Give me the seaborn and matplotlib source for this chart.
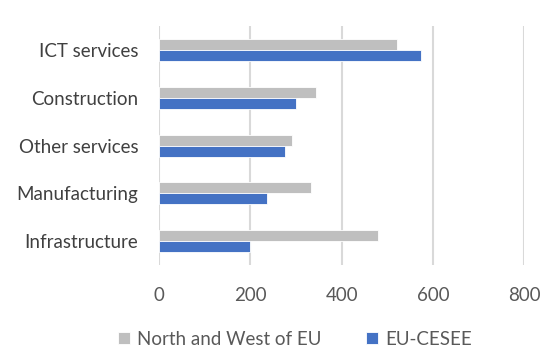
import matplotlib
matplotlib.use("Agg")
import matplotlib.pyplot as plt
import seaborn as sns
import pandas as pd

categories = ["ICT services", "Construction", "Other services", "Manufacturing", "Infrastructure"]
north_west = [521, 344, 291, 333, 479]
cesee = [573, 301, 276, 236, 200]
series_names = ["North and West of EU", "EU-CESEE"]
xticks = [0, 200, 400, 600, 800]

df = pd.DataFrame({
    "category": categories * 2,
    "value": north_west + cesee,
    "series": [series_names[0]] * len(categories) + [series_names[1]] * len(categories),
})

sns.set_theme(style="white")
plt.rcParams["font.family"] = ["Lato", "DejaVu Sans"]

fig = plt.figure(figsize=(5.41, 3.49), dpi=100)
ax = fig.add_axes([0.294, 0.241, 0.675, 0.684])
sns.barplot(data=df, y="category", x="value", hue="series", order=categories,
            hue_order=series_names, palette=["#BFBFBF", "#4472C4"], width=0.46,
            orient="h", ax=ax, edgecolor="white", linewidth=0.6, legend=True,
            saturation=1)
ax.set_xlim(0, 800)
ax.set_ylim(4.5, -0.5)
ax.set_xticks(xticks)
ax.set_xticklabels([str(t) for t in xticks])
ax.grid(axis="x", color="#D9D9D9", linewidth=1.5)
ax.set_axisbelow(True)
for s in ax.spines.values():
    s.set_visible(False)
ax.set_xlabel("")
ax.set_ylabel("")
ax.tick_params(axis="x", length=0, pad=16, labelsize=13.5, labelcolor="#595959")
ax.tick_params(axis="y", length=0, pad=15, labelsize=13.5, labelcolor="#404040")

handles, labels = ax.get_legend_handles_labels()
ax.get_legend().remove()
fig.legend(handles, labels, loc="center", bbox_to_anchor=(0.545, 0.028), ncol=2,
           frameon=False, fontsize=13.5, handlelength=0.65, handleheight=0.65,
           handletextpad=0.35, columnspacing=2.4, labelcolor="#595959")

fig.savefig("out.png", dpi=100)
